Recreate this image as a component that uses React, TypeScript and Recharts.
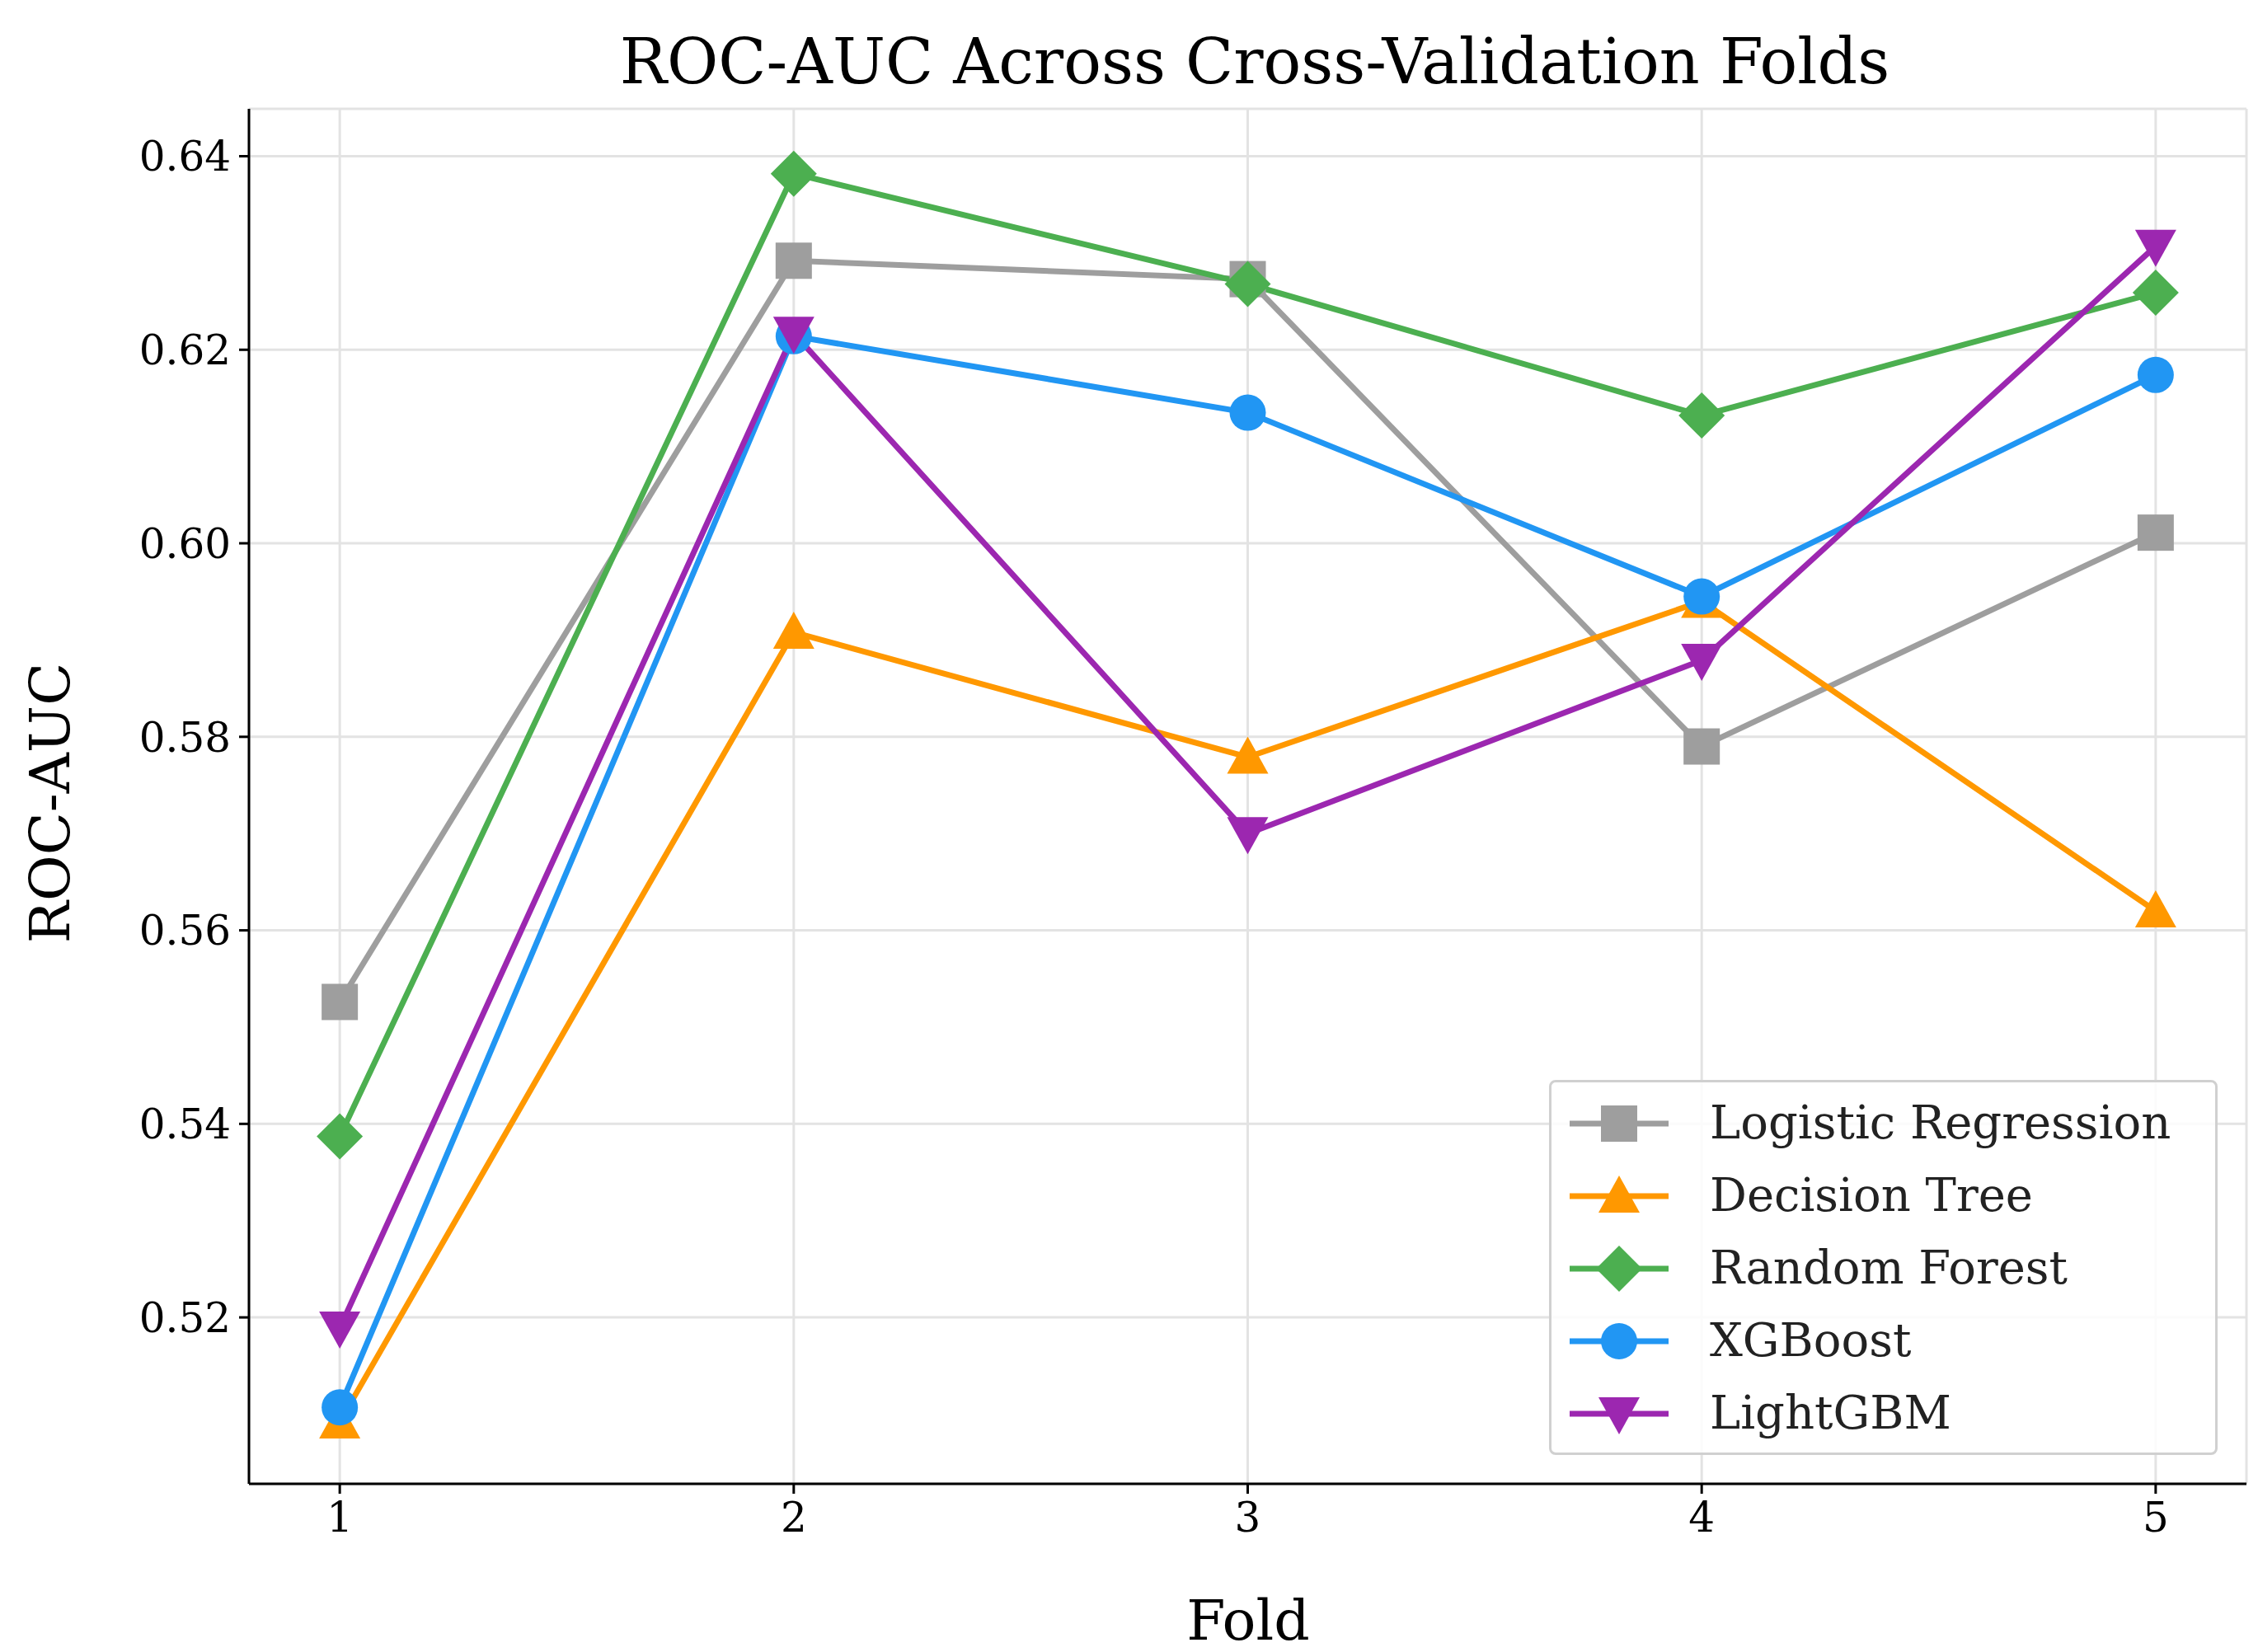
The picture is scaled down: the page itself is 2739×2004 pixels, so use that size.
import React from "react";
import { LineChart, Line, XAxis, YAxis, CartesianGrid, Customized } from "recharts";

const folds = [1, 2, 3, 4, 5];
const logistic = [0.5526, 0.6292, 0.6273, 0.579, 0.6011];
const decisionTree = [0.5092, 0.5908, 0.5779, 0.594, 0.562];
const randomForest = [0.5387, 0.6382, 0.6268, 0.6132, 0.6259];
const xgboost = [0.5107, 0.6214, 0.6135, 0.5945, 0.6174];
const lightgbm = [0.5189, 0.6217, 0.57, 0.5879, 0.6307];
const yTicks = [0.52, 0.54, 0.56, 0.58, 0.6, 0.62, 0.64];

const series = [
  { key: "lr", name: "Logistic Regression", color: "#9e9e9e", shape: "square", values: logistic },
  { key: "dt", name: "Decision Tree", color: "#ff9800", shape: "triangle", values: decisionTree },
  { key: "rf", name: "Random Forest", color: "#4caf50", shape: "diamond", values: randomForest },
  { key: "xgb", name: "XGBoost", color: "#2196f3", shape: "circle", values: xgboost },
  { key: "lgbm", name: "LightGBM", color: "#9c27b0", shape: "tridown", values: lightgbm },
];

const data = folds.map((f, i) => {
  const row: any = { fold: f };
  series.forEach((s) => (row[s.key] = s.values[i]));
  return row;
});

const FONT = "'DejaVu Serif', serif";

function marker(shape: string, cx: number, cy: number, color: string, k?: any) {
  const r = 22;
  if (shape === "square") return <rect key={k} x={cx - r} y={cy - r} width={2 * r} height={2 * r} fill={color} />;
  if (shape === "circle") return <circle key={k} cx={cx} cy={cy} r={r} fill={color} />;
  if (shape === "diamond") return <polygon key={k} points={`${cx},${cy - 28} ${cx + 28},${cy} ${cx},${cy + 28} ${cx - 28},${cy}`} fill={color} />;
  if (shape === "triangle") return <polygon key={k} points={`${cx},${cy - 25} ${cx + 25},${cy + 20} ${cx - 25},${cy + 20}`} fill={color} />;
  return <polygon key={k} points={`${cx},${cy + 25} ${cx + 25},${cy - 20} ${cx - 25},${cy - 20}`} fill={color} />;
}

const makeDot = (shape: string, color: string) => (p: any) => marker(shape, p.cx, p.cy, color, p.index);

export default function App() {
  return (
    <div style={{ position: "relative", width: 2723, height: 1990, fontFamily: FONT, background: "#fff" }}>
      <LineChart width={2723} height={1990} data={data} margin={{ top: 124, right: 6, bottom: 0, left: 0 }}>
        <CartesianGrid stroke="#e3e3e3" strokeWidth={3} />
        <XAxis dataKey="fold" type="number" domain={[0.8, 5.2]} ticks={folds} height={198}
          stroke="#000" strokeWidth={3} tickSize={12} tickMargin={10}
          tick={{ fontFamily: FONT, fontSize: 50, fill: "#000" }} />
        <YAxis type="number" domain={[0.5028, 0.6449]} ticks={yTicks} width={294}
          tickFormatter={(v: number) => v.toFixed(2)}
          stroke="#000" strokeWidth={3} tickSize={12} tickMargin={10}
          tick={{ fontFamily: FONT, fontSize: 50, fill: "#000" }} />
        {series.map((s) => (
          <Line key={s.key} dataKey={s.key} stroke={s.color} strokeWidth={7}
            dot={makeDot(s.shape, s.color)} isAnimationActive={false} />
        ))}
        <Customized component={() => (
          <g>
            <rect x={0} y={0} width={0} height={0} fill="none" />
          </g>
        )} />
      </LineChart>
      <div style={{ position: "absolute", left: 0, width: 3028, top: 22, textAlign: "center", fontSize: 76 }}>
        ROC-AUC Across Cross-Validation Folds
      </div>
      <div style={{ position: "absolute", left: 1506, transform: "translateX(-50%)", top: 1918, fontSize: 68 }}>Fold</div>
      <div style={{ position: "absolute", left: 52, top: 966, transform: "translate(-50%,-50%) rotate(-90deg)", fontSize: 68, whiteSpace: "nowrap" }}>ROC-AUC</div>
      <div style={{ position: "absolute", left: 1871, top: 1302, width: 811, height: 455, border: "3px solid #d0d0d0", borderRadius: 8, background: "rgba(255,255,255,0.85)", boxSizing: "border-box" }}>
        <svg width={811} height={455} style={{ position: "absolute", left: 0, top: 0 }}>
          {series.map((s, i) => {
            const y = 50 + i * 88;
            return (
              <g key={s.key}>
                <line x1={22} x2={142} y1={y} y2={y} stroke={s.color} strokeWidth={7} />
                {marker(s.shape, 82, y, s.color)}
                <text x={192} y={y + 18} fontFamily={FONT} fontSize={56} fill="#222">{s.name}</text>
              </g>
            );
          })}
        </svg>
      </div>
    </div>
  );
}
